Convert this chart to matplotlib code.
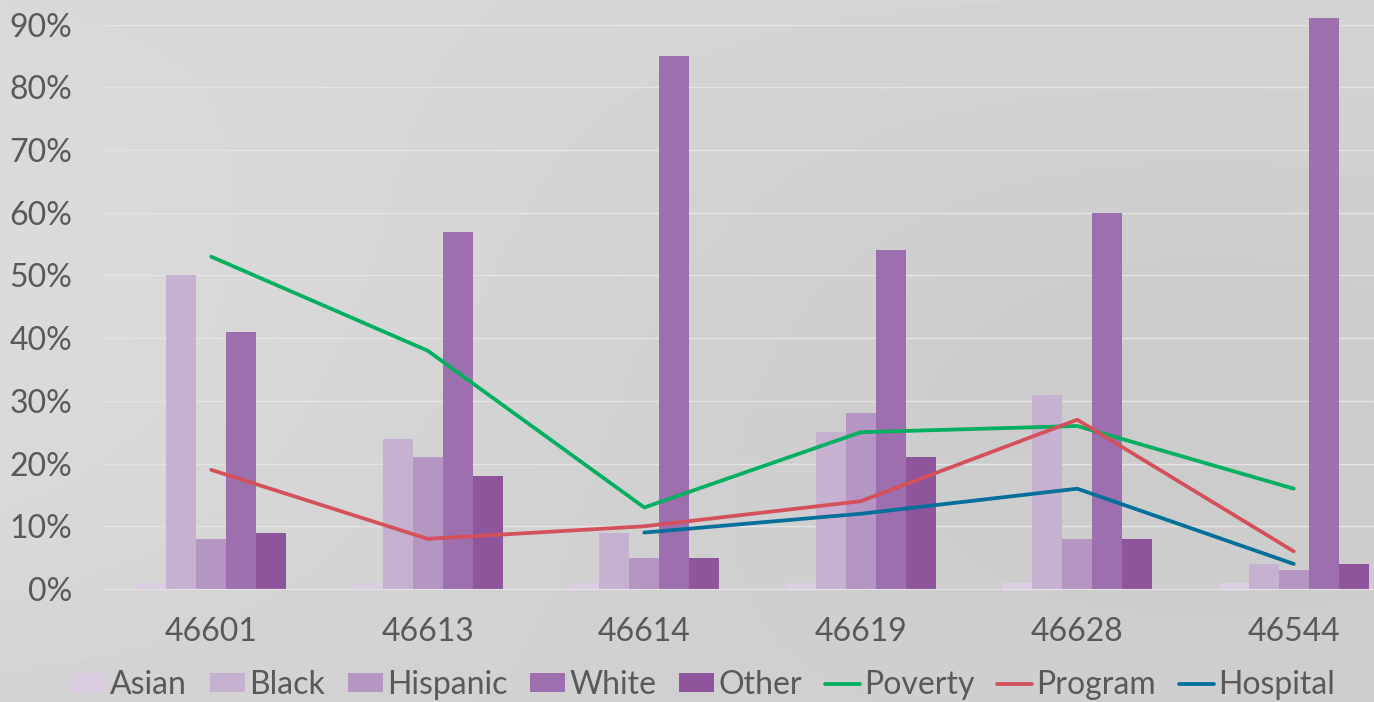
import matplotlib
matplotlib.use("Agg")
import matplotlib.pyplot as plt
import numpy as np
from matplotlib.ticker import PercentFormatter

categories = ["46601", "46613", "46614", "46619", "46628", "46544"]
asian = [0.01, 0.01, 0.01, 0.01, 0.01, 0.01]
black = [0.50, 0.24, 0.09, 0.25, 0.31, 0.04]
hispanic = [0.08, 0.21, 0.05, 0.28, 0.08, 0.03]
white = [0.41, 0.57, 0.85, 0.54, 0.60, 0.91]
other = [0.09, 0.18, 0.05, 0.21, 0.08, 0.04]
poverty = [0.53, 0.38, 0.13, 0.25, 0.26, 0.16]
program = [0.19, 0.08, 0.10, 0.14, 0.27, 0.06]
hospital = [None, None, 0.09, 0.12, 0.16, 0.04]
yticks = [0, 0.1, 0.2, 0.3, 0.4, 0.5, 0.6, 0.7, 0.8, 0.9]

bar_series = [("Asian", asian, "#dccde2"), ("Black", black, "#c7b1d1"),
              ("Hispanic", hispanic, "#b596c3"), ("White", white, "#9e6fae"),
              ("Other", other, "#8e559d")]
line_series = [("Poverty", poverty, "#00b060"), ("Program", program, "#d4505a"),
               ("Hospital", hospital, "#00709b")]

plt.rcParams['font.family'] = ['Lato', 'DejaVu Sans']
W, H = 1374, 702
fig = plt.figure(figsize=(W/100, H/100), dpi=100, facecolor="#d4d4d4")

# subtle background shading
bgax = fig.add_axes([0, 0, 1, 1], zorder=-10)
yy, xx = np.mgrid[0:1:200j, 0:1:400j]
shade = 0.84 + 0.03 * np.cos(xx * 3.0 + 0.5) * np.sin(yy * 2.5 + 0.3) - 0.02 * yy
bgax.imshow(shade, cmap="gray", vmin=0, vmax=1, aspect="auto", extent=[0, 1, 0, 1])
bgax.axis("off")

ax = fig.add_axes([103/W, (H-589)/H, (1402-103)/W, 589/H])
ax.patch.set_alpha(0)

x = np.arange(len(categories))
bw = 0.1386
bar_handles = []
for i, (name, vals, col) in enumerate(bar_series):
    b = ax.bar(x + (i - 2) * bw, vals, width=bw, color=col, label=name, zorder=2)
    bar_handles.append(b)
line_handles = []
for name, vals, col in line_series:
    v = np.array([np.nan if a is None else a for a in vals], dtype=float)
    ln, = ax.plot(x, v, color=col, lw=2.7, label=name, zorder=3, solid_capstyle="round")
    line_handles.append(ln)

ax.set_xlim(-0.5, 5.5)
ax.set_ylim(0, 589/62.7/10)
ax.set_yticks(yticks)
ax.yaxis.set_major_formatter(PercentFormatter(1.0, decimals=0))
ax.set_xticks(x)
ax.set_xticklabels(categories)
ax.grid(axis="y", color="#e4e4e4", lw=1.0, zorder=0)
ax.set_axisbelow(True)
for s in ["top", "right", "left"]:
    ax.spines[s].set_visible(False)
ax.spines["bottom"].set_color("#e4e4e4")
ax.tick_params(axis="both", length=0, labelsize=23, colors="#595959")
ax.tick_params(axis="y", pad=22)
ax.tick_params(axis="x", pad=20)

handles = bar_handles + line_handles
labels = [s[0] for s in bar_series] + [s[0] for s in line_series]
fig.legend(handles, labels, loc="center", bbox_to_anchor=(0.5 + 16/W, 17/H), ncol=8, frameon=False,
           fontsize=23, labelcolor="#595959", handlelength=1.1, handleheight=0.55,
           handletextpad=0.12, columnspacing=0.72, borderaxespad=0)

fig.savefig("out.png", dpi=100, facecolor=fig.get_facecolor())
